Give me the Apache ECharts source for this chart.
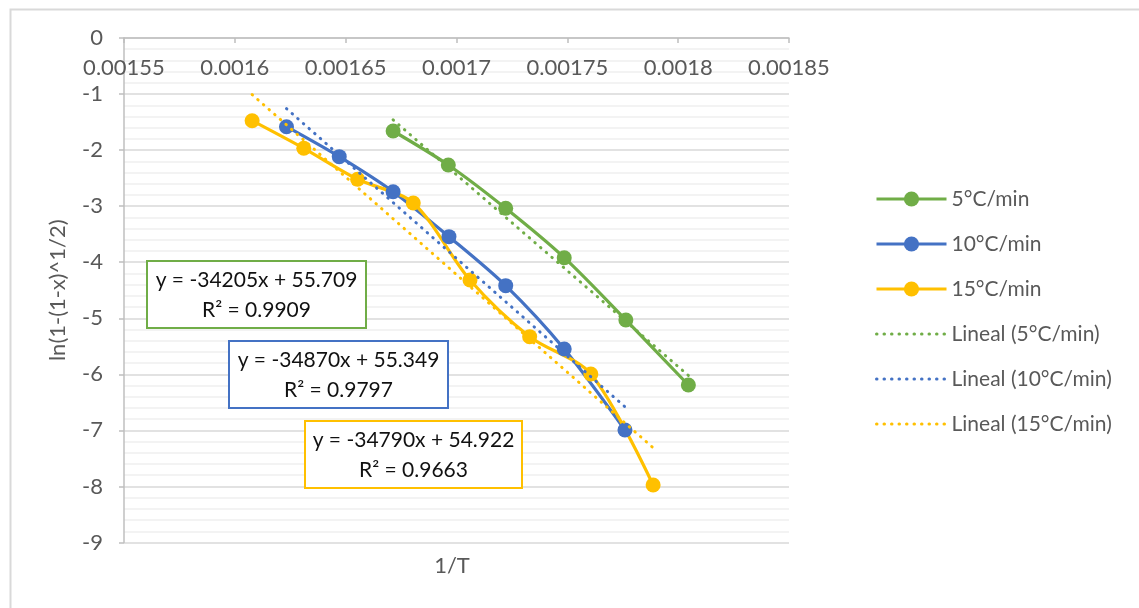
<!DOCTYPE html>
<html><head><meta charset="utf-8">
<script src="https://cdn.jsdelivr.net/npm/echarts@6/dist/echarts.min.js"></script>
<style>html,body{margin:0;padding:0;background:#fff}#c{width:1139px;height:608px}</style>
</head><body><div id="c"></div>
<script>
// ---- data ----
const seriesNames = ['5°C/min', '10°C/min', '15°C/min'];
const trendNames = ['Lineal (5°C/min)', 'Lineal (10°C/min)', 'Lineal (15°C/min)'];
const x5  = [0.0016714, 0.0016963, 0.0017222, 0.0017486, 0.0017764, 0.0018046];
const y5  = [-1.659, -2.265, -3.038, -3.919, -5.030, -6.190];
const x10 = [0.0016233, 0.0016471, 0.0016714, 0.0016966, 0.0017222, 0.0017486, 0.0017760];
const y10 = [-1.582, -2.117, -2.742, -3.544, -4.418, -5.548, -6.993];
const x15 = [0.0016078, 0.0016311, 0.0016554, 0.0016805, 0.0017061, 0.0017330, 0.0017606, 0.0017887];
const y15 = [-1.475, -1.968, -2.520, -2.943, -4.317, -5.328, -5.994, -7.974];
// trendline end points
const trend5x  = [0.0016714, 0.0018046];
const trend5y  = [-1.46, -6.02];
const trend10x = [0.0016233, 0.0017760];
const trend10y = [-1.26, -6.58];
const trend15x = [0.0016078, 0.0017887];
const trend15y = [-1.01, -7.31];
const eqLines = ['y = -34205x + 55.709', 'y = -34870x + 55.349', 'y = -34790x + 54.922'];
const r2Lines = ['R² = 0.9909', 'R² = 0.9797', 'R² = 0.9663'];
const xName = '1/T';
const yName = 'ln(1-(1-x)^1/2)';

const colors = ['#70AD47', '#4472C4', '#FFC000'];
const FONT = 'Lato';
const GRAY = '#595959';

const pts = (xs, ys) => xs.map((x, i) => [x, ys[i]]);
const dataSets = [pts(x5, y5), pts(x10, y10), pts(x15, y15)];
const trendSets = [pts(trend5x, trend5y), pts(trend10x, trend10y), pts(trend15x, trend15y)];

const series = [];
dataSets.forEach((d, i) => series.push({
  name: seriesNames[i], type: 'line', data: d, smooth: 0.3,
  symbol: 'circle', symbolSize: 15, z: 2,
  lineStyle: { color: colors[i], width: 3.2 },
  itemStyle: { color: colors[i] }
}));
trendSets.forEach((d, i) => series.push({
  name: trendNames[i], type: 'line', data: d, symbol: 'none', showSymbol: false, z: 3,
  lineStyle: { color: colors[i], width: 3, type: [0.5, 7], cap: 'round' },
  itemStyle: { color: colors[i] }
}));

// equation boxes
const boxes = [
  { l: 147, t: 261, w: 219, h: 67 },
  { l: 229, t: 341, w: 219, h: 67 },
  { l: 305, t: 421, w: 217, h: 67 }
];
const graphics = [
  { type: 'rect', left: 8, top: 7, z: -10, shape: { width: 1200, height: 700 },
    style: { fill: 'none', stroke: '#d9d9d9', lineWidth: 2 } },
  { type: 'text', x: 452, y: 566, z: 10,
    style: { text: xName, font: '22px ' + FONT, fill: GRAY, align: 'center', verticalAlign: 'middle' } }
];
boxes.forEach((b, i) => {
  graphics.push({ type: 'rect', shape: { x: b.l, y: b.t, width: b.w, height: b.h }, z: 20,
    style: { fill: '#fff', stroke: colors[i], lineWidth: 2 } });
  graphics.push({ type: 'text', x: b.l + b.w / 2, y: b.t + b.h / 2 + 1, z: 21,
    style: { text: eqLines[i] + '\n' + r2Lines[i], font: '21px ' + FONT, fill: '#111',
      align: 'center', verticalAlign: 'middle', lineHeight: 30 } });
});

const fmt = v => String(parseFloat(v.toFixed(6)));

const legendData = seriesNames.map(n => ({ name: n }))
  .concat(trendNames.map(n => ({ name: n, itemStyle: { opacity: 0 } })));

const chart = echarts.init(document.getElementById('c'), null, { renderer: 'canvas' });
chart.setOption({
  backgroundColor: '#fff',
  animation: false,
  textStyle: { fontFamily: FONT },
  grid: { left: 124, top: 38, width: 665, height: 504.5, containLabel: false },
  legend: {
    orient: 'vertical', left: 870, top: 182,
    itemWidth: 70, itemHeight: 19, itemGap: 21,
    lineStyle: { width: 3 },
    textStyle: { fontFamily: FONT, fontSize: 21, color: GRAY, lineHeight: 24 },
    data: legendData
  },
  xAxis: {
    type: 'value', position: 'top', min: 0.00155, max: 0.00185, interval: 0.00005,
    axisLine: { onZero: false, lineStyle: { color: '#bfbfbf', width: 1.5 } },
    axisTick: { show: true, inside: true, length: 5, lineStyle: { color: '#bfbfbf', width: 1.5 } },
    axisLabel: { inside: true, margin: 19, fontSize: 22, color: GRAY, fontFamily: FONT, formatter: fmt, showMinLabel: true, showMaxLabel: true },
    splitLine: { show: false }
  },
  yAxis: {
    type: 'value', min: -9, max: 0, interval: 1,
    name: yName, nameLocation: 'middle', nameGap: 55, nameRotate: 90,
    nameTextStyle: { fontSize: 22, color: GRAY, fontFamily: FONT },
    axisLine: { show: true, lineStyle: { color: '#bfbfbf', width: 1.5 } },
    axisTick: { show: true, length: 5, lineStyle: { color: '#bfbfbf', width: 1.5 } },
    axisLabel: { margin: 21, fontSize: 22, color: GRAY, fontFamily: FONT },
    splitLine: { show: true, lineStyle: { color: '#d9d9d9', width: 1.5 } },
    minorTick: { show: false, splitNumber: 5 },
    minorSplitLine: { show: true, lineStyle: { color: '#efefef', width: 1.5 } }
  },
  graphic: graphics,
  series: series
});
</script></body></html>
